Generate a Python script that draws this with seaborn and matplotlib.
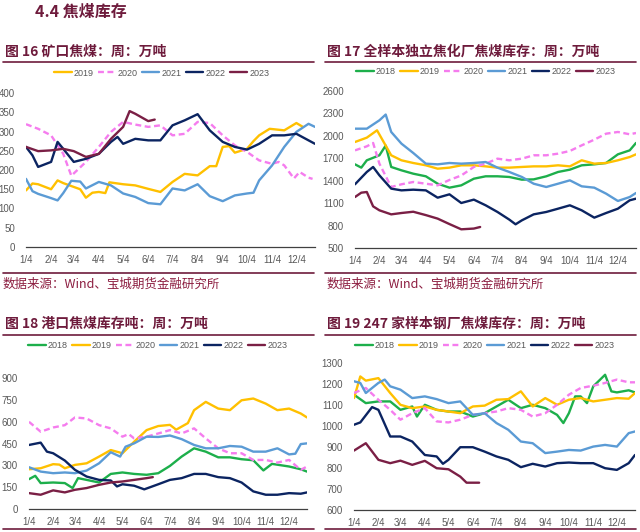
import pandas as pd
import matplotlib.pyplot as plt
from matplotlib.lines import Line2D
import seaborn as sns

# ---- data ("m/d", value) ----
mine_2019 = [("1/4", 147), ("1/12", 165), ("1/19", 163), ("2/4", 150), ("2/12", 173), ("2/19", 166),
             ("3/4", 156), ("3/12", 150), ("3/19", 128), ("3/27", 141), ("4/4", 143), ("4/12", 140),
             ("4/17", 168), ("5/4", 163), ("5/19", 160), ("6/4", 151), ("6/19", 143), ("7/4", 169),
             ("7/19", 190), ("8/4", 186), ("8/19", 210), ("8/27", 210), ("9/4", 260), ("9/12", 262),
             ("9/19", 245), ("10/4", 255), ("10/12", 275), ("10/19", 290), ("11/1", 307), ("11/19", 303),
             ("12/4", 322), ("12/12", 312)]
mine_2020 = [("1/4", 319), ("1/19", 307), ("2/4", 290), ("2/19", 242), ("3/1", 185), ("3/19", 221),
             ("4/4", 260), ("4/19", 299), ("5/4", 325), ("5/19", 318), ("6/4", 312), ("6/19", 316),
             ("7/4", 290), ("7/19", 294), ("8/4", 325), ("8/19", 322), ("9/4", 290), ("9/19", 264),
             ("10/4", 247), ("10/19", 225), ("11/4", 216), ("11/12", 221), ("11/19", 212), ("12/1", 178),
             ("12/8", 195), ("12/19", 180), ("12/24", 177)]
mine_2021 = [("1/4", 177), ("1/12", 145), ("1/19", 138), ("2/4", 127), ("2/12", 121), ("2/19", 140),
             ("3/1", 172), ("3/12", 170), ("3/19", 152), ("4/4", 169), ("4/19", 160), ("5/4", 139),
             ("5/19", 130), ("6/4", 114), ("6/19", 111), ("7/4", 152), ("7/19", 147), ("8/4", 163),
             ("8/19", 132), ("9/4", 119), ("9/19", 134), ("10/4", 139), ("10/12", 141), ("10/19", 173),
             ("11/4", 212), ("11/19", 260), ("12/4", 299), ("12/19", 320), ("12/27", 312)]
mine_2022 = [("1/4", 260), ("1/12", 238), ("1/19", 208), ("2/4", 221), ("2/12", 273), ("2/19", 255),
             ("3/4", 221), ("3/19", 229), ("4/4", 242), ("4/19", 273), ("4/27", 286), ("5/4", 268),
             ("5/19", 281), ("6/4", 277), ("6/19", 277), ("7/4", 316), ("7/19", 329), ("8/4", 345),
             ("8/19", 303), ("9/4", 273), ("9/19", 260), ("10/4", 253), ("10/19", 268), ("11/4", 290),
             ("11/19", 290), ("12/4", 294), ("12/19", 277), ("12/27", 268)]
mine_2023 = [("1/4", 260), ("1/19", 249), ("2/4", 251), ("2/19", 255), ("3/4", 249), ("3/19", 234),
             ("4/4", 242), ("4/19", 281), ("5/4", 312), ("5/12", 353), ("5/19", 346), ("6/4", 327),
             ("6/12", 331)]

plant_2018 = [("1/4", 1619), ("1/12", 1575), ("1/19", 1673), ("2/4", 1740), ("2/12", 1870), ("2/19", 1584),
              ("3/4", 1539), ("3/19", 1494), ("4/4", 1459), ("4/19", 1360), ("5/4", 1307), ("5/19", 1338),
              ("6/4", 1427), ("6/19", 1459), ("7/4", 1459), ("7/19", 1450), ("8/4", 1414), ("8/19", 1418),
              ("9/4", 1459), ("9/19", 1517), ("10/4", 1548), ("10/19", 1606), ("11/4", 1619), ("11/19", 1637),
              ("12/4", 1753), ("12/19", 1806), ("12/27", 1905)]
plant_2019 = [("1/4", 1918), ("1/19", 1976), ("2/1", 2074), ("2/19", 1740), ("3/4", 1673), ("3/19", 1637),
              ("4/4", 1606), ("4/19", 1561), ("5/4", 1575), ("5/19", 1606), ("6/4", 1606), ("6/19", 1592),
              ("7/4", 1575), ("7/19", 1575), ("8/4", 1584), ("8/19", 1592), ("9/4", 1592), ("9/19", 1606),
              ("10/4", 1592), ("10/19", 1673), ("11/4", 1628), ("11/19", 1637), ("12/4", 1673),
              ("12/19", 1717), ("12/27", 1753)]
plant_2020 = [("1/4", 1806), ("1/19", 1860), ("1/27", 1905), ("2/4", 1628), ("2/19", 1316), ("3/4", 1352),
              ("3/19", 1383), ("4/4", 1360), ("4/19", 1338), ("5/4", 1410), ("5/19", 1470), ("6/4", 1584),
              ("6/19", 1628), ("7/4", 1695), ("7/19", 1673), ("8/4", 1695), ("8/19", 1740), ("9/4", 1740),
              ("9/19", 1762), ("10/4", 1798), ("10/19", 1873), ("11/4", 1949), ("11/19", 2029),
              ("12/4", 2052), ("12/19", 2021), ("12/27", 2038)]
plant_2021 = [("1/4", 2096), ("1/19", 2096), ("2/4", 2208), ("2/12", 2285), ("2/19", 2052), ("3/4", 1896),
              ("3/19", 1771), ("4/4", 1628), ("4/19", 1619), ("5/4", 1637), ("5/19", 1628), ("6/4", 1637),
              ("6/19", 1650), ("7/4", 1575), ("7/19", 1517), ("8/4", 1450), ("8/19", 1360), ("9/4", 1316),
              ("9/19", 1360), ("10/4", 1405), ("10/19", 1325), ("11/4", 1307), ("11/19", 1227),
              ("12/4", 1129), ("12/19", 1182), ("12/27", 1236)]
plant_2022 = [("1/4", 1352), ("1/19", 1517), ("1/27", 1584), ("2/4", 1472), ("2/19", 1294), ("3/4", 1271),
              ("3/19", 1280), ("4/4", 1271), ("4/19", 1173), ("5/4", 1218), ("5/19", 1102), ("6/4", 1147),
              ("6/19", 1071), ("7/4", 982), ("7/19", 880), ("7/27", 817), ("8/4", 870), ("8/19", 950),
              ("9/4", 982), ("9/19", 1026), ("10/4", 1071), ("10/19", 1004), ("11/4", 906), ("11/19", 968),
              ("12/4", 1026), ("12/19", 1138), ("12/27", 1160)]
plant_2023 = [("1/4", 1182), ("1/12", 1240), ("1/19", 1249), ("1/27", 1057), ("2/4", 1004), ("2/19", 950),
              ("3/4", 968), ("3/19", 985), ("4/4", 940), ("4/19", 893), ("5/4", 820), ("5/19", 750),
              ("6/4", 760), ("6/12", 781)]

port_2018 = [("1/4", 205), ("1/12", 228), ("1/19", 178), ("2/4", 182), ("2/19", 178), ("3/1", 144),
             ("3/8", 212), ("3/19", 200), ("4/4", 182), ("4/19", 241), ("5/4", 251), ("5/19", 241),
             ("6/4", 235), ("6/19", 246), ("7/4", 296), ("7/19", 360), ("8/4", 417), ("8/19", 394),
             ("9/4", 355), ("9/19", 355), ("10/4", 342), ("10/19", 335), ("11/1", 265), ("11/12", 310),
             ("12/4", 292), ("12/19", 273), ("12/27", 257)]
port_2019 = [("1/4", 273), ("1/19", 280), ("2/4", 308), ("2/12", 305), ("2/19", 280), ("3/4", 303),
             ("3/19", 314), ("4/4", 360), ("4/19", 405), ("5/4", 383), ("5/19", 462), ("6/4", 542),
             ("6/19", 570), ("7/4", 578), ("7/12", 545), ("7/27", 590), ("8/4", 679), ("8/19", 736),
             ("9/4", 690), ("9/19", 679), ("10/4", 747), ("10/19", 759), ("11/4", 724), ("11/19", 679),
             ("12/4", 690), ("12/19", 656), ("12/27", 629)]
port_2020 = [("1/4", 599), ("1/19", 531), ("2/4", 560), ("2/19", 576), ("3/4", 629), ("3/19", 622),
             ("4/4", 576), ("4/19", 554), ("5/4", 497), ("5/12", 515), ("5/19", 485), ("6/4", 497),
             ("6/19", 519), ("7/4", 542), ("7/19", 519), ("8/4", 554), ("8/19", 485), ("9/4", 417),
             ("9/19", 383), ("10/4", 383), ("10/19", 337), ("11/4", 337), ("11/19", 319), ("12/4", 337),
             ("12/19", 269), ("12/27", 292)]
port_2021 = [("1/4", 287), ("1/19", 257), ("2/4", 246), ("2/19", 251), ("3/4", 246), ("3/19", 264),
             ("4/4", 314), ("4/19", 390), ("5/1", 360), ("5/8", 428), ("5/19", 451), ("6/4", 497),
             ("6/19", 495), ("7/4", 505), ("7/19", 480), ("8/4", 440), ("8/19", 417), ("9/4", 417),
             ("9/19", 433), ("10/4", 428), ("10/19", 394), ("11/4", 394), ("11/19", 417), ("12/4", 375),
             ("12/12", 380), ("12/19", 446), ("12/27", 451)]
port_2022 = [("1/4", 440), ("1/19", 456), ("1/27", 394), ("2/4", 383), ("2/19", 333), ("3/4", 269),
             ("3/19", 223), ("4/4", 200), ("4/19", 196), ("4/27", 155), ("5/4", 170), ("5/19", 160),
             ("6/1", 135), ("6/19", 170), ("7/4", 200), ("7/19", 212), ("8/4", 241), ("8/19", 241),
             ("9/4", 219), ("9/19", 212), ("10/4", 182), ("10/19", 121), ("11/4", 98), ("11/19", 98),
             ("12/4", 109), ("12/19", 105), ("12/27", 114)]
port_2023 = [("1/4", 109), ("1/19", 98), ("2/4", 128), ("2/19", 114), ("3/4", 132), ("3/19", 144),
             ("4/4", 166), ("4/19", 182), ("5/4", 189), ("5/19", 200), ("6/4", 212), ("6/12", 219)]

mill_2018 = [("1/4", 1149), ("1/19", 1109), ("2/4", 1117), ("2/19", 1117), ("3/4", 1077), ("3/19", 1093),
             ("3/25", 1045), ("4/4", 1101), ("4/19", 1077), ("5/4", 1069), ("5/19", 1069), ("6/4", 1045),
             ("6/19", 1061), ("7/4", 1093), ("7/19", 1125), ("8/4", 1085), ("8/19", 1101), ("9/4", 1085),
             ("9/19", 1053), ("9/27", 1014), ("10/4", 1061), ("10/12", 1141), ("10/19", 1141),
             ("10/27", 1109), ("11/4", 1189), ("11/19", 1244), ("11/27", 1165), ("12/4", 1160),
             ("12/19", 1170), ("12/27", 1160)]
mill_2019 = [("1/4", 1133), ("1/12", 1236), ("1/19", 1216), ("2/4", 1228), ("2/19", 1157), ("3/4", 1101),
             ("3/19", 1085), ("4/4", 1093), ("4/19", 1077), ("5/4", 1069), ("5/19", 1061), ("6/4", 1093),
             ("6/19", 1097), ("7/4", 1125), ("7/19", 1128), ("8/4", 1165), ("8/19", 1093), ("9/4", 1133),
             ("9/19", 1101), ("10/4", 1125), ("10/19", 1133), ("11/4", 1117), ("11/19", 1125),
             ("12/4", 1133), ("12/19", 1130), ("12/27", 1157)]
mill_2020 = [("1/4", 1157), ("1/19", 1181), ("2/4", 1125), ("2/19", 1077), ("3/4", 1030), ("3/19", 1061),
             ("4/4", 1085), ("4/19", 1022), ("5/4", 1017), ("5/19", 1030), ("6/4", 1053), ("6/19", 1061),
             ("7/4", 1069), ("7/19", 1085), ("8/4", 1077), ("8/19", 1045), ("9/4", 1061), ("9/19", 1101),
             ("10/4", 1149), ("10/19", 1181), ("11/4", 1192), ("11/19", 1205), ("12/4", 1221),
             ("12/19", 1208), ("12/27", 1208)]
mill_2021 = [("1/4", 1213), ("1/12", 1205), ("1/19", 1157), ("2/4", 1205), ("2/12", 1221), ("2/19", 1189),
             ("3/4", 1173), ("3/19", 1133), ("4/4", 1141), ("4/19", 1128), ("5/4", 1109), ("5/19", 1117),
             ("6/4", 1053), ("6/19", 1061), ("7/4", 1014), ("7/19", 982), ("8/4", 926), ("8/19", 918),
             ("9/4", 871), ("9/19", 878), ("10/4", 886), ("10/19", 883), ("11/4", 902), ("11/19", 910),
             ("12/4", 902), ("12/19", 966), ("12/27", 974)]
mill_2022 = [("1/4", 1006), ("1/12", 1017), ("1/27", 1090), ("2/4", 1077), ("2/19", 950), ("3/4", 950),
             ("3/19", 926), ("4/4", 862), ("4/19", 855), ("4/27", 820), ("5/4", 839), ("5/19", 899),
             ("6/4", 899), ("6/19", 878), ("7/4", 855), ("7/19", 839), ("8/4", 804), ("8/19", 820),
             ("9/4", 807), ("9/19", 823), ("10/4", 826), ("10/19", 823), ("11/4", 823), ("11/19", 799),
             ("12/4", 791), ("12/19", 823), ("12/27", 862)]
mill_2023 = [("1/4", 883), ("1/19", 918), ("2/4", 839), ("2/19", 823), ("3/4", 835), ("3/19", 815),
             ("4/4", 834), ("4/19", 799), ("5/4", 794), ("5/19", 759), ("5/27", 730), ("6/4", 730),
             ("6/12", 730)]

month_ticks = ["1/4", "2/4", "3/4", "4/4", "5/4", "6/4", "7/4", "8/4", "9/4", "10/4", "11/4", "12/4"]

colors = {"2018": "#1DAF4B", "2019": "#FFC000", "2020": "#F57CEE",
          "2021": "#5B9BD5", "2022": "#0B2461", "2023": "#7A1F45"}
dash_map = {"2018": "", "2019": "", "2020": (2.5, 1.5), "2021": "", "2022": "", "2023": ""}

maroon = "#6E1B3C"
src_color = "#8C1D40"
grey = "#595959"


def doy(s):
    m, d = s.split("/")
    return pd.Timestamp(2019, int(m), int(d)).dayofyear


def to_frame(series):
    rows = []
    for year, pts in series.items():
        for date, val in pts:
            rows.append({"day": doy(date), "value": val, "year": year})
    return pd.DataFrame(rows)


panels = [
    {"rect": [26, 93, 315, 247], "ylim": (0, 400), "step": 50,
     "series": {"2019": mine_2019, "2020": mine_2020, "2021": mine_2021,
                "2022": mine_2022, "2023": mine_2023},
     "legend": (162, 73)},
    {"rect": [355, 91, 636, 248], "ylim": (500, 2600), "step": 300,
     "series": {"2018": plant_2018, "2019": plant_2019, "2020": plant_2020,
                "2021": plant_2021, "2022": plant_2022, "2023": plant_2023},
     "legend": (486, 72)},
    {"rect": [29, 378, 307, 509], "ylim": (0, 900), "step": 150,
     "series": {"2018": port_2018, "2019": port_2019, "2020": port_2020,
                "2021": port_2021, "2022": port_2022, "2023": port_2023},
     "legend": (158, 346)},
    {"rect": [354, 363, 635, 510], "ylim": (600, 1300), "step": 100,
     "series": {"2018": mill_2018, "2019": mill_2019, "2020": mill_2020,
                "2021": mill_2021, "2022": mill_2022, "2023": mill_2023},
     "legend": (485, 346)},
]

sns.set_style("white")
plt.rcParams["font.family"] = ["Liberation Sans Narrow", "Liberation Sans", "DejaVu Sans"]

W, H = 640, 532
fig = plt.figure(figsize=(6.4, 5.32), dpi=100)


def fx(x):
    return x / W


def fy(y):
    return 1 - y / H


for p in panels:
    x0, y0, x1, y1 = p["rect"]
    ax = fig.add_axes([fx(x0), fy(y1), (x1 - x0) / W, (y1 - y0) / H])
    df = to_frame(p["series"])
    years = list(p["series"].keys())
    sns.lineplot(data=df, x="day", y="value", hue="year", style="year",
                 hue_order=years, style_order=years,
                 palette={y: colors[y] for y in years},
                 dashes={y: dash_map[y] for y in years},
                 estimator=None, sort=True, linewidth=1.7, ax=ax)
    ax.set_xlim(4, 361)
    lo, hi = p["ylim"]
    ax.set_ylim(lo, hi)
    ax.set_yticks(range(lo, hi + 1, p["step"]))
    ax.set_xticks([doy(t) for t in month_ticks])
    ax.set_xticklabels(month_ticks)
    ax.set_xlabel("")
    ax.set_ylabel("")
    for s in ["top", "right", "left"]:
        ax.spines[s].set_visible(False)
    ax.spines["bottom"].set_color("#404040")
    ax.spines["bottom"].set_linewidth(0.9)
    ax.tick_params(axis="x", direction="in", length=3, width=0.8, color="#404040",
                   labelsize=7, labelcolor=grey, pad=6)
    ax.tick_params(axis="y", length=0, labelsize=7, labelcolor=grey, pad=8)
    ax.set_facecolor("none")
    lx, ly = p["legend"]
    sns.move_legend(ax, "center", bbox_to_anchor=(fx(lx), fy(ly)),
                    bbox_transform=fig.transFigure, ncol=len(years), frameon=False,
                    title=None, fontsize=6.5, handlelength=1.9, handletextpad=0.25,
                    columnspacing=0.5, labelcolor=grey)

cjk = ["Noto Sans CJK SC", "DejaVu Sans"]

fig.text(fx(35), fy(12), "4.4 焦煤库存", family=cjk, fontsize=11.5, fontweight="bold",
         color=maroon, ha="left", va="center")

titles = [
    (5, 52, "图 16 矿口焦煤：周：万吨"),
    (327, 52, "图 17 全样本独立焦化厂焦煤库存：周：万吨"),
    (5, 324, "图 18 港口焦煤库存吨：周：万吨"),
    (327, 324, "图 19 247 家样本钢厂焦煤库存：周：万吨"),
]
for x, y, t in titles:
    fig.text(fx(x), fy(y), t, family=cjk, fontsize=10, fontweight="bold",
             color=maroon, ha="left", va="center")

rules = [(3, 314, 62), (325, 636, 62), (3, 314, 335), (325, 636, 335),
         (3, 314, 273), (325, 636, 273), (3, 314, 529), (325, 636, 529)]
for xa, xb, y in rules:
    fig.add_artist(Line2D([fx(xa), fx(xb)], [fy(y), fy(y)], color=maroon, lw=1.2,
                          transform=fig.transFigure))

for x in (3, 327):
    fig.text(fx(x), fy(284), "数据来源：Wind、宝城期货金融研究所", family=cjk, fontsize=9,
             color=src_color, ha="left", va="center")

fig.savefig("out.png", dpi=100)
